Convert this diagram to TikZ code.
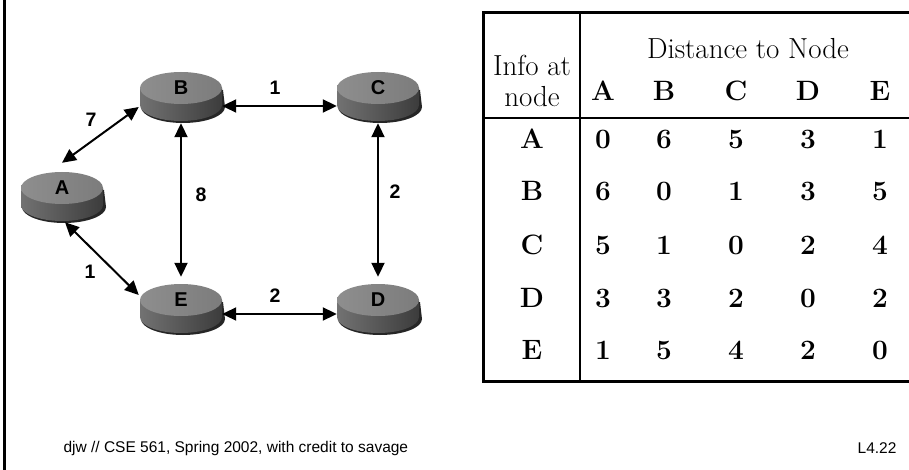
\documentclass[tikz,border=0pt]{standalone}
\usepackage{fontspec}
\setsansfont{Liberation Sans}
\usetikzlibrary{arrows.meta,calc}
\definecolor{sideL}{HTML}{727272}
\definecolor{sideR}{HTML}{3C3C3C}
\definecolor{topL}{HTML}{8E8E8E}
\definecolor{topR}{HTML}{7C7C7C}
\tikzset{
  discnode/.style={minimum width=82pt,minimum height=30pt,inner sep=0pt,font=\sffamily\bfseries\fontsize{20}{20}\selectfont},
  link/.style={line width=2pt,{Triangle[length=14pt,width=13pt]}-{Triangle[length=14pt,width=13pt]}},
  wlabel/.style={font=\sffamily\bfseries\fontsize{19.5}{20}\selectfont},
  tab/.style={font=\fontsize{29}{30}\selectfont},
  tabb/.style={font=\bfseries\fontsize{28}{30}\selectfont},
  foot/.style={font=\sffamily\fontsize{15.5}{16}\selectfont}
}
\newcommand\colx[1]{\ifcase#1\or603\or664\or736\or808\or880\fi}
\newcommand\rdisc[3]{%
  \fill[black!85] ({#1-40},{#2+2}) -- ({#1-40},{#2+19})
     arc[start angle=180,end angle=360,x radius=42pt,y radius=16pt] -- ({#1+42},{#2+2}) -- cycle;
  \shade[left color=sideL,right color=sideR] ({#1-41},{#2}) -- ({#1-41},{#2+17})
     arc[start angle=180,end angle=360,x radius=41pt,y radius=16pt] -- ({#1+41},{#2}) -- cycle;
  \shade[left color=topL,right color=topR] (#1,#2) ellipse[x radius=41pt,y radius=16pt];
  \node[discnode] (#3) at (#1,#2) {#3};
}
\begin{document}
\begin{tikzpicture}[x=1pt,y=-1pt]
\useasboundingbox (0,0) rectangle (909,470);
\fill[white] (0,0) rectangle (909,470);
\draw[line width=2.5pt] (4.5,0) -- (4.5,470);

% discs
\rdisc{62}{188}{A}
\rdisc{181}{88}{B}
\rdisc{378}{88}{C}
\rdisc{378}{300}{D}
\rdisc{181}{300}{E}

% links
\draw[link] ([yshift=10pt]A.north) -- ([shift={(-1pt,-19pt)}]B.west);
\draw[link] ([yshift=-18pt]B.east) -- ([yshift=-18pt]C.west);
\draw[link] ([yshift=-20pt]B.south) -- ([yshift=8pt]E.north);
\draw[link] ([yshift=-20pt]C.south) -- ([yshift=8pt]D.north);
\draw[link] ([shift={(3pt,-19pt)}]A.south) -- ([shift={(-1pt,5pt)}]E.west);
\draw[link] ([yshift=-14pt]E.east) -- ([yshift=-14pt]D.west);

% weights
\node[wlabel] (w7) at (91,120) {7};
\node[wlabel] (w1a) at (275,88) {1};
\node[wlabel] (w8) at (201,195) {8};
\node[wlabel] (w2a) at (395,192) {2};
\node[wlabel] (w1b) at (90,272) {1};
\node[wlabel] (w2b) at (275,296) {2};

% table
\draw[line width=3pt] (483,13) -- (909,13);
\draw[line width=3pt] (483,381) -- (909,381);
\draw[line width=3pt] (483,11.5) -- (483,382.5);
\draw[line width=1.5pt] (580,13) -- (580,381);
\draw[line width=1.5pt] (483,118) -- (909,118);

\node[tab] (hinfo) at (532,65) {Info at};
\node[tab] (hnode) at (532,97) {node};
\node[tab] (hdist) at (748,49) {Distance to Node};

\foreach \c/\x in {A/603,B/664,C/736,D/808,E/880}{
  \node[tabb,anchor=base] (col\c) at (\x,101) {\c};
}
\foreach \r/\y/\vals in {A/140/{0,6,5,3,1},B/192/{6,0,1,3,5},C/245/{5,1,0,2,4},D/298/{3,3,2,0,2},E/350/{1,5,4,2,0}}{
  \node[tabb,anchor=base] (row\r) at (532,\y+9) {\r};
  \foreach \v [count=\i] in \vals {
    \node[tabb,anchor=base] (c\r\i) at ({\colx{\i}},\y+9) {\v};
  }
}

% footer
\node[foot,anchor=west] (ftext) at (60,448) {djw // CSE 561, Spring 2002, with credit to savage};
\node[foot,anchor=east] (fnum) at (900,448) {L4.22};
\end{tikzpicture}
\end{document}
